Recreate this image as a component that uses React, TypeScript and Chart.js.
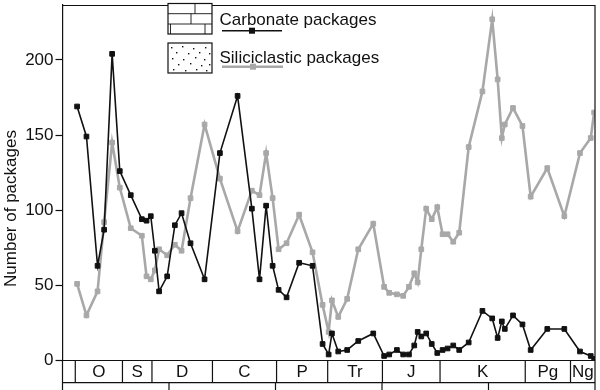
import React, { useEffect, useRef } from 'react';
import { Chart, registerables } from 'chart.js';

Chart.register(...registerables);

// Age (Ma) of each sample bin
const ages = [
  486.3, 477.5, 467.1, 460.9, 453.4, 446.2, 435.9, 425.5, 421.1, 417.1,
  413.3, 409.3, 401.7, 394.5, 388.2, 379.8, 366.6, 352.2, 335.6, 322.2,
  315.0, 308.8, 302.7, 297.1, 289.6, 277.8, 265.2, 255.8, 250.1, 247.0,
  241.1, 232.7, 222.3, 208.2, 198.0, 193.2, 186.0, 180.1, 174.7, 169.7,
  166.5, 163.1, 158.5, 153.3, 148.1, 143.1, 138.4, 133.1, 127.5, 118.6,
  105.7, 96.5, 91.4, 87.5, 84.7, 77.0, 68.1, 60.4, 44.8, 28.8,
  14.1, 4.0, 0.8,
];

const carbonate = [
  169, 149, 63, 87, 204, 126, 110, 94, 93, 96,
  73, 46, 56, 90, 98, 78, 54, 138, 176, 101,
  54, 103, 63, 47, 42, 65, 63, 11, 4, 18,
  6, 7, 13, 18, 3, 4, 7, 4, 4, 10,
  19, 16, 18, 11, 5, 7, 8, 10, 7, 12,
  33, 28, 15, 26, 21, 30, 24, 7, 21, 21,
  6, 3, 1,
];

const siliciclastic = [
  51, 30, 46, 92, 145, 115, 88, 83, 56, 54,
  60, 74, 70, 77, 73, 108, 157, 121, 86, 113,
  110, 138, 108, 74, 78, 97, 72, 37, 19, 40,
  29, 41, 74, 91, 49, 45, 44, 43, 49, 58,
  52, 74, 101, 94, 102, 84, 84, 79, 85, 142,
  179, 227, 187, 148, 157, 168, 156, 109, 128, 96,
  138, 148, 165,
];

const periodNames = ['', 'O', 'S', 'D', 'C', 'P', 'Tr', 'J', 'K', 'Pg', 'Ng'];
const periodBounds = [500, 488, 443.7, 416, 359.2, 299, 251, 199.6, 145.5, 65.5, 23, 0];
const ageTicks = [500, 400, 300, 200, 100, 0];

const seriesNames = ['Carbonate packages', 'Siliciclastic packages'];
const yTitle = 'Number of packages';

const FONT = '"Liberation Sans", Arial, Helvetica, sans-serif';
const BLACK = '#111111';
const GREY = '#a8a8a8';

const decorPlugin = {
  id: 'decor',
  afterDraw(chart: any) {
    const ctx = chart.ctx as CanvasRenderingContext2D;
    const { left, right, top, bottom } = chart.chartArea;
    const xs = chart.scales.x;
    const stripBottom = bottom + 22.2;
    const H = chart.height;
    ctx.save();
    ctx.strokeStyle = BLACK;
    ctx.lineWidth = 1.2;
    ctx.beginPath();
    ctx.moveTo(left, top + 0.5);
    ctx.lineTo(right, top + 0.5);
    ctx.moveTo(right, top);
    ctx.lineTo(right, H);
    ctx.moveTo(left, bottom);
    ctx.lineTo(left, H);
    ctx.moveTo(left, bottom);
    ctx.lineTo(right, bottom);
    ctx.moveTo(left, stripBottom);
    ctx.lineTo(right, stripBottom);
    for (let i = 1; i < periodBounds.length - 1; i++) {
      const px = xs.getPixelForValue(periodBounds[i]);
      ctx.moveTo(px, bottom);
      ctx.lineTo(px, stripBottom);
    }
    for (const t of ageTicks) {
      const px = xs.getPixelForValue(t);
      ctx.moveTo(px, stripBottom);
      ctx.lineTo(px, H);
    }
    ctx.stroke();

    // period labels
    ctx.fillStyle = BLACK;
    ctx.font = `17px ${FONT}`;
    ctx.textAlign = 'center';
    ctx.textBaseline = 'middle';
    for (let i = 0; i < periodNames.length; i++) {
      if (!periodNames[i]) continue;
      const a = xs.getPixelForValue(periodBounds[i]);
      const b = xs.getPixelForValue(periodBounds[i + 1]);
      ctx.fillText(periodNames[i], (a + b) / 2, (bottom + stripBottom) / 2 + 1);
    }

    // y title
    ctx.save();
    ctx.translate(15.7, 208.5);
    ctx.rotate(-Math.PI / 2);
    ctx.textAlign = 'center';
    ctx.textBaseline = 'alphabetic';
    ctx.fillText(yTitle, 0, 0);
    ctx.restore();

    // legend: brick pattern box
    ctx.lineWidth = 1.2;
    ctx.strokeStyle = BLACK;
    ctx.fillStyle = '#ffffff';
    ctx.fillRect(168, 3.5, 44, 30.5);
    ctx.strokeRect(168, 3.5, 44, 30.5);
    ctx.lineWidth = 0.9;
    ctx.beginPath();
    ctx.moveTo(168, 13.7); ctx.lineTo(212, 13.7);
    ctx.moveTo(168, 24); ctx.lineTo(212, 24);
    ctx.moveTo(195, 3.5); ctx.lineTo(195, 13.7);
    ctx.moveTo(191, 13.7); ctx.lineTo(191, 24);
    ctx.moveTo(170.5, 24); ctx.lineTo(170.5, 34);
    ctx.moveTo(205, 24); ctx.lineTo(205, 34);
    ctx.stroke();

    // legend: dotted box
    ctx.lineWidth = 1.2;
    ctx.fillStyle = '#ffffff';
    ctx.fillRect(168, 43, 44, 30);
    ctx.strokeRect(168, 43, 44, 30);
    ctx.fillStyle = BLACK;
    const dots = [
      [3, 4], [14, 3], [25, 5], [37, 4], [8, 9], [20, 10], [31, 9], [41, 10],
      [4, 15], [15, 16], [27, 14], [36, 16], [10, 21], [22, 20], [33, 22], [41, 21],
      [5, 26], [17, 27], [28, 26], [38, 27],
    ];
    for (const [dx, dy] of dots) ctx.fillRect(168 + dx, 43 + dy, 1.4, 1.4);

    // legend texts and samples
    ctx.font = `17px ${FONT}`;
    ctx.textAlign = 'left';
    ctx.textBaseline = 'alphabetic';
    ctx.fillStyle = BLACK;
    ctx.fillText(seriesNames[0], 219.5, 24.5);
    ctx.fillText(seriesNames[1], 219.5, 63);

    ctx.strokeStyle = BLACK;
    ctx.lineWidth = 1.5;
    ctx.beginPath();
    ctx.moveTo(222, 30.7); ctx.lineTo(282, 30.7);
    ctx.stroke();
    ctx.fillRect(249, 27.7, 6, 6);

    ctx.strokeStyle = GREY;
    ctx.lineWidth = 2.5;
    ctx.beginPath();
    ctx.moveTo(222, 66.7); ctx.lineTo(283, 66.7);
    ctx.stroke();
    ctx.fillStyle = GREY;
    ctx.fillRect(250, 63.7, 6, 6);

    ctx.restore();
  },
};

export default function App() {
  const ref = useRef<HTMLCanvasElement | null>(null);

  useEffect(() => {
    if (!ref.current) return;
    const chart = new Chart(ref.current, {
      type: 'line',
      data: {
        datasets: [
          {
            label: seriesNames[0],
            data: ages.map((a, i) => ({ x: a, y: carbonate[i] })),
            borderColor: BLACK,
            backgroundColor: BLACK,
            borderWidth: 1.6,
            pointStyle: 'rect',
            pointRadius: 3.3,
            pointBorderWidth: 1,
            pointBorderColor: BLACK,
            pointBackgroundColor: BLACK,
            tension: 0,
          },
          {
            label: seriesNames[1],
            data: ages.map((a, i) => ({ x: a, y: siliciclastic[i] })),
            borderColor: GREY,
            backgroundColor: GREY,
            borderWidth: 2.6,
            pointStyle: 'rect',
            pointRadius: 3.3,
            pointBorderWidth: 1,
            pointBorderColor: GREY,
            pointBackgroundColor: GREY,
            tension: 0,
          },
        ],
      },
      options: {
        animation: false,
        responsive: false,
        maintainAspectRatio: false,
        layout: { padding: { left: 0, right: 5, top: 1, bottom: 29.5 } },
        plugins: {
          legend: { display: false },
          tooltip: { enabled: false },
          title: { display: false },
        },
        scales: {
          x: {
            type: 'linear',
            reverse: true,
            min: 0,
            max: 500,
            display: false,
          },
          y: {
            min: 0,
            max: 236.5,
            ticks: {
              stepSize: 50,
              includeBounds: false,
              color: BLACK,
              padding: 2,
              font: { size: 17, family: FONT },
            },
            grid: {
              display: true,
              drawOnChartArea: false,
              drawTicks: true,
              tickLength: 7,
              tickColor: BLACK,
              tickWidth: 1.2,
            },
            border: { display: true, color: BLACK, width: 1.2 },
            afterFit(scale: any) {
              scale.width = 62.5;
              scale.paddingTop = 0;
              scale.paddingBottom = 0;
            },
          },
        },
      },
      plugins: [decorPlugin],
    } as any);
    return () => chart.destroy();
  }, []);

  return (
    <div style={{ position: 'absolute', left: 0, top: 0, width: 600, height: 390, background: '#fff' }}>
      <canvas ref={ref} width={600} height={390} style={{ display: 'block' }} />
    </div>
  );
}
